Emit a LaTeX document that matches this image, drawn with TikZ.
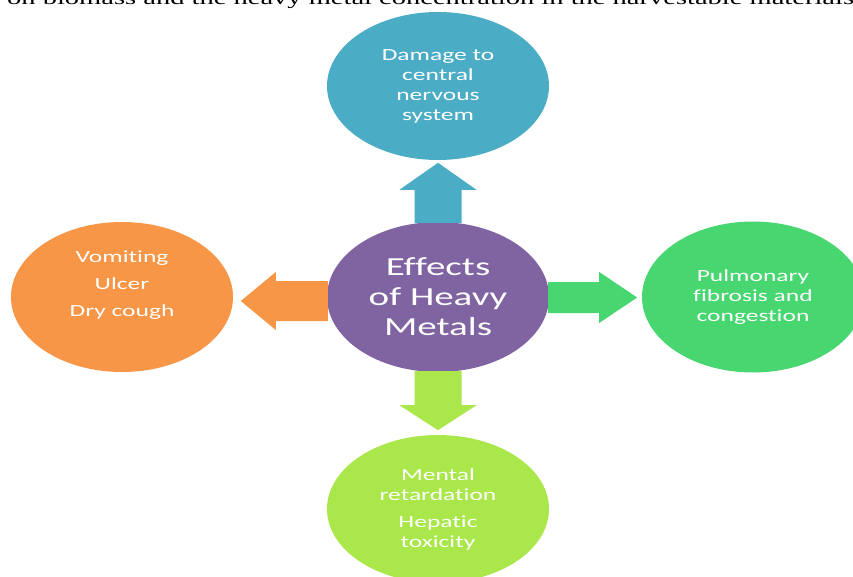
\documentclass[tikz,border=0pt]{standalone}
\usepackage{fontspec}
\setmainfont{Carlito}
\newfontfamily\widesans[FakeStretch=1.5,Ligatures=NoCommon]{Carlito}
\newfontfamily\wideserif[FakeStretch=1.5]{Liberation Serif}
\usetikzlibrary{shapes.geometric,calc}
\definecolor{cblue}{HTML}{4BACC6}
\definecolor{cpurple}{HTML}{8064A2}
\definecolor{corange}{HTML}{F79646}
\definecolor{cgreen}{HTML}{48D670}
\definecolor{clime}{HTML}{A9E74A}
% #1 colour, #2 start, #3 angle, #4 length, #5 stem width, #6 head width, #7 head length
\newcommand\blockarrow[7]{%
  \fill[#1,shift={#2},rotate=#3] (0,-#5/2) -- (#4-#7,-#5/2) -- (#4-#7,-#6/2) -- (#4,0)
    -- (#4-#7,#6/2) -- (#4-#7,#5/2) -- (0,#5/2) -- cycle;}
\begin{document}
\begin{tikzpicture}[x=1pt,y=-1pt,
  bubble/.style={ellipse, inner sep=0pt, minimum width=222pt, minimum height=150pt,
    text=white, align=center, font=\widesans\fontsize{17}{20}\selectfont},
  bigtext/.style={font=\widesans\fontsize{26}{30}\selectfont}]
\useasboundingbox (0,0) rectangle (853,577);
\clip (0,0) rectangle (853,577);
\fill[white] (0,0) rectangle (853,577);

\node[anchor=base west, inner sep=0pt, font=\wideserif\fontsize{19}{22}\selectfont] (cap) at (7,4.5)
  {on biomass and the heavy metal concentration in the harvestable materials};

\node[bubble, fill=cpurple, bigtext] (c) at (438,297) {Effects\\of Heavy\\Metals};
\node[bubble, fill=cblue, minimum height=148pt] (t) at (438,86) {Damage to\\central\\nervous\\system};
\node[bubble, fill=corange] (l) at (122,297) {Vomiting\\[7pt]Ulcer\\[7pt]Dry cough\\[7pt]~};
\node[bubble, fill=cgreen, minimum height=151pt] (r) at (753,297) {Pulmonary\\fibrosis and\\congestion};
\node[bubble, fill=clime, minimum height=148pt] (b) at (438,509) {Mental\\retardation\\[7pt]Hepatic\\toxicity};

\blockarrow{cblue}{($(c.north)+(0,1)$)}{90}{60}{47}{77}{27}
\blockarrow{clime}{($(c.south)+(0,-1)$)}{-90}{59}{47}{77}{25}
\blockarrow{cgreen}{($(c.east)+(-1,0.5)$)}{0}{89}{31}{51}{38}
\blockarrow{corange}{($(c.west)+(1,4)$)}{180}{87}{40}{58}{35}
\end{tikzpicture}
\end{document}
